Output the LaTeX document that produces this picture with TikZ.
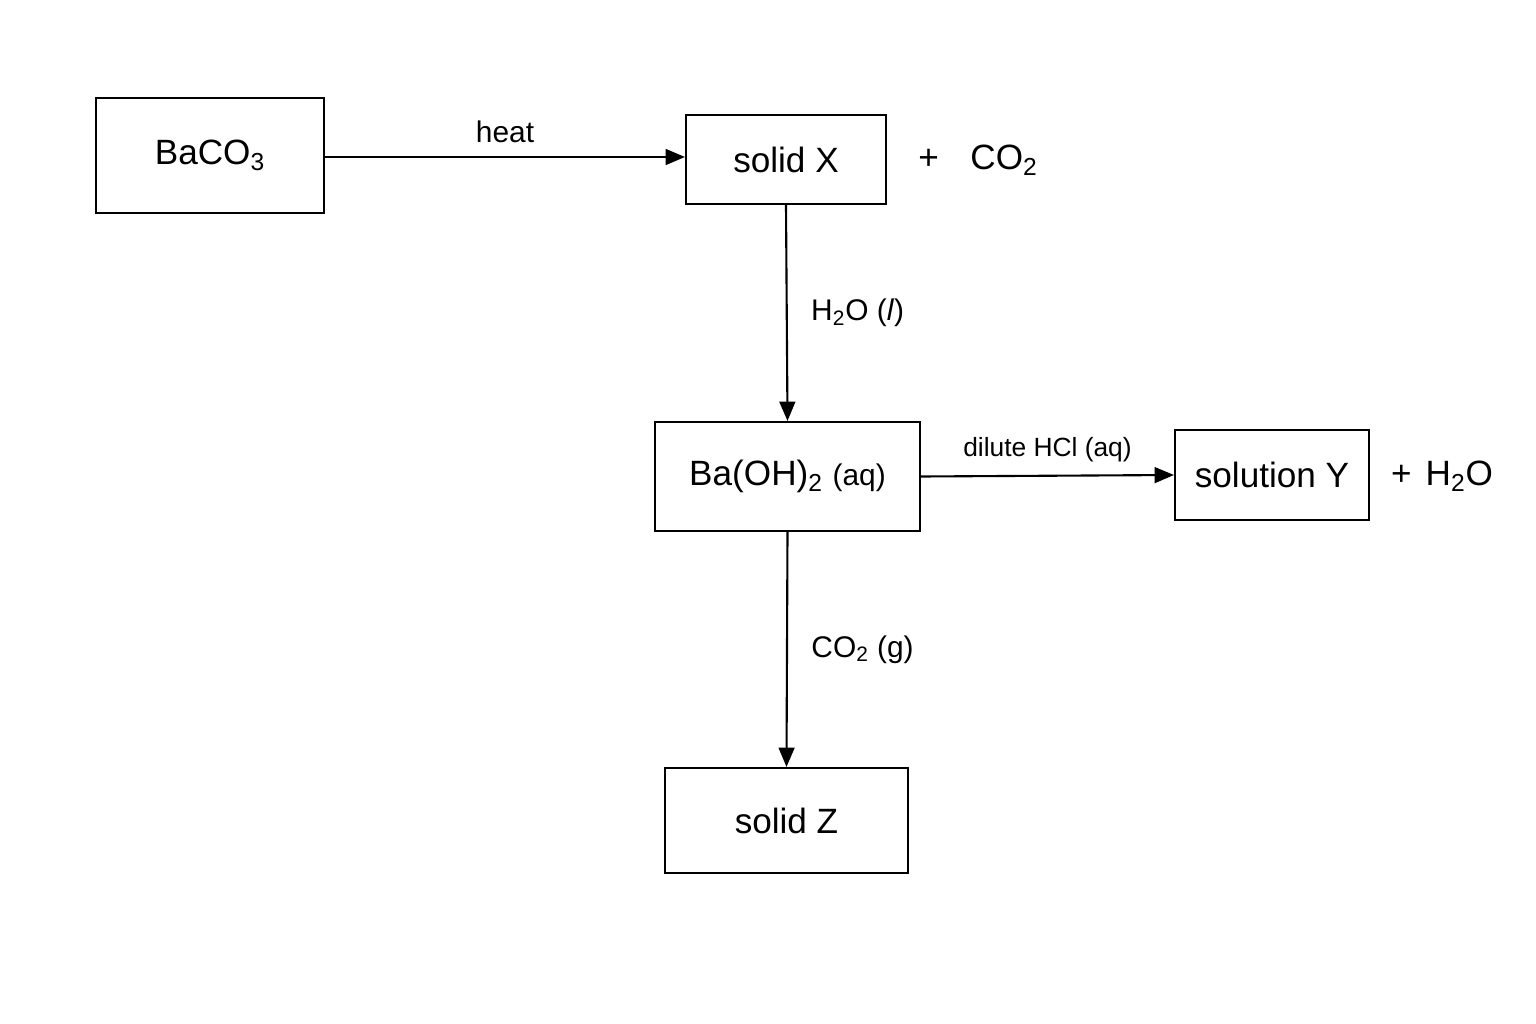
\documentclass[tikz,border=0pt]{standalone}
\usepackage{fontspec}
\setmainfont{Liberation Sans}
\usetikzlibrary{arrows.meta}
\tikzset{
  box/.style={draw, line width=1.2pt, inner sep=0pt, font=\fontsize{20}{24}\selectfont},
  lbl/.style={font=\fontsize{17}{20}\selectfont},
  rxn/.style={-{Triangle[length=11pt,width=9pt]}, line width=1.2pt}
}
\begin{document}
\begin{tikzpicture}[x=0.02cm,y=-0.02cm]
\useasboundingbox (0,0) rectangle (1536,1024);
\node[box, minimum width=228*0.02cm, minimum height=115*0.02cm] (bc) at (210,155.5) {BaCO\textsubscript{3}};
\node[box, minimum width=200*0.02cm, minimum height=89*0.02cm] (sx) at (786,159.5) {solid X};
\node[box, minimum width=265*0.02cm, minimum height=109*0.02cm] (bo) at (787.5,476.5) {Ba(OH)\textsubscript{2} {\fontsize{17}{20}\selectfont(aq)}};
\node[box, minimum width=194*0.02cm, minimum height=90*0.02cm] (sy) at (1272,475) {solution Y};
\node[box, minimum width=243*0.02cm, minimum height=105*0.02cm] (sz) at (786.5,820.5) {solid Z};
\node[font=\fontsize{20}{24}\selectfont] (co) at (978,160) {+\hspace{0.9em}CO\textsubscript{2}};
\node[font=\fontsize{20}{24}\selectfont] (hw) at (1442,476) {+\hspace{0.4em}H\textsubscript{2}O};
% reaction arrows
\draw[rxn] (bc.east |- 0,157) -- (sx.west |- 0,157) node[lbl, midway, above=4pt] {heat};
\draw[rxn] (sx.south) -- (bo.north) node[lbl, midway, right=10pt] {H\textsubscript{2}O (\textit{l})};
\draw[rxn] (bo.east) -- (sy.west) node[midway, above=4pt, font=\fontsize{15}{18}\selectfont] {dilute HCl (aq)};
\draw[rxn] (bo.south) -- (sz.north) node[lbl, midway, right=10pt] {CO\textsubscript{2} (g)};
\end{tikzpicture}
\end{document}
